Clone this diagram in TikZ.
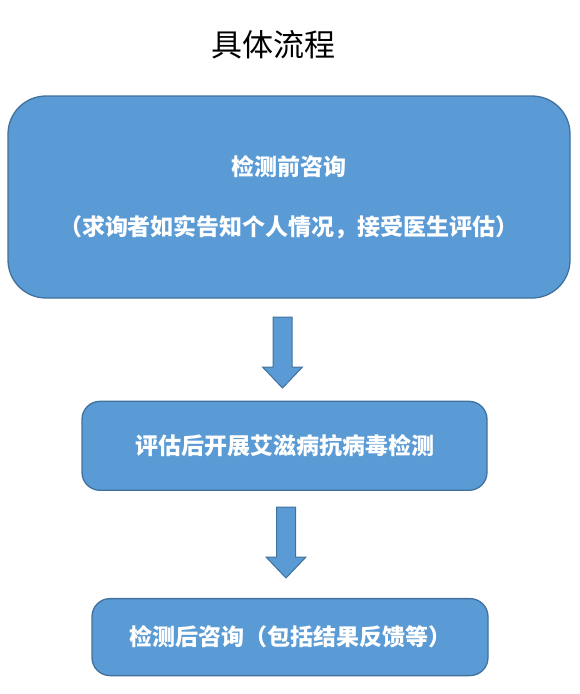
\documentclass[tikz,border=0pt]{standalone}
\usepackage{fontspec}
\newfontfamily\cjk{Noto Sans CJK SC}
\usetikzlibrary{positioning}
\definecolor{boxfill}{RGB}{91,155,213}
\definecolor{boxline}{RGB}{65,113,156}

\begin{document}
\begin{tikzpicture}
[x=1pt, y=-1pt, node distance=102pt,
 step box/.style={shape=rectangle, fill=boxfill, draw=boxline, line width=1.3pt,
   text=white, align=center, inner sep=0pt,
   font=\cjk\bfseries\fontsize{23}{27}\selectfont},
 down arrow/.style={fill=boxfill, draw=boxline, line width=1pt, line join=miter}]
\useasboundingbox (0,0) rectangle (579,694);
\node[font=\cjk\fontsize{31}{36}\selectfont] (title) at (273,45) {具体流程};
\node[step box, rounded corners=38pt, minimum width=562pt, minimum height=202pt]
  (pre) at (289,197) {检测前咨询\\[33pt]（求询者如实告知个人情况，接受医生评估）};
\node[step box, rounded corners=18pt, minimum width=405pt, minimum height=89pt,
  below=of pre, xshift=-4.5pt] (test) {评估后开展艾滋病抗病毒检测};
\node[step box, rounded corners=18pt, minimum width=396pt, minimum height=77pt,
  below=107pt of test, xshift=5.5pt] (post) {检测后咨询（包括结果反馈等）};
% block arrows between the boxes
\foreach \n/\x/\y in {arr1/282.5/317, arr2/286/507}{
  \coordinate (\n) at (\x,\y);
  \draw[down arrow] (\n) ++(-9.5,0) -- ++(19,0) -- ++(0,50) -- ++(10.5,0)
    -- ++(-20,21) -- ++(-20,-21) -- ++(10.5,0) -- cycle;
}
\end{tikzpicture}
\end{document}
